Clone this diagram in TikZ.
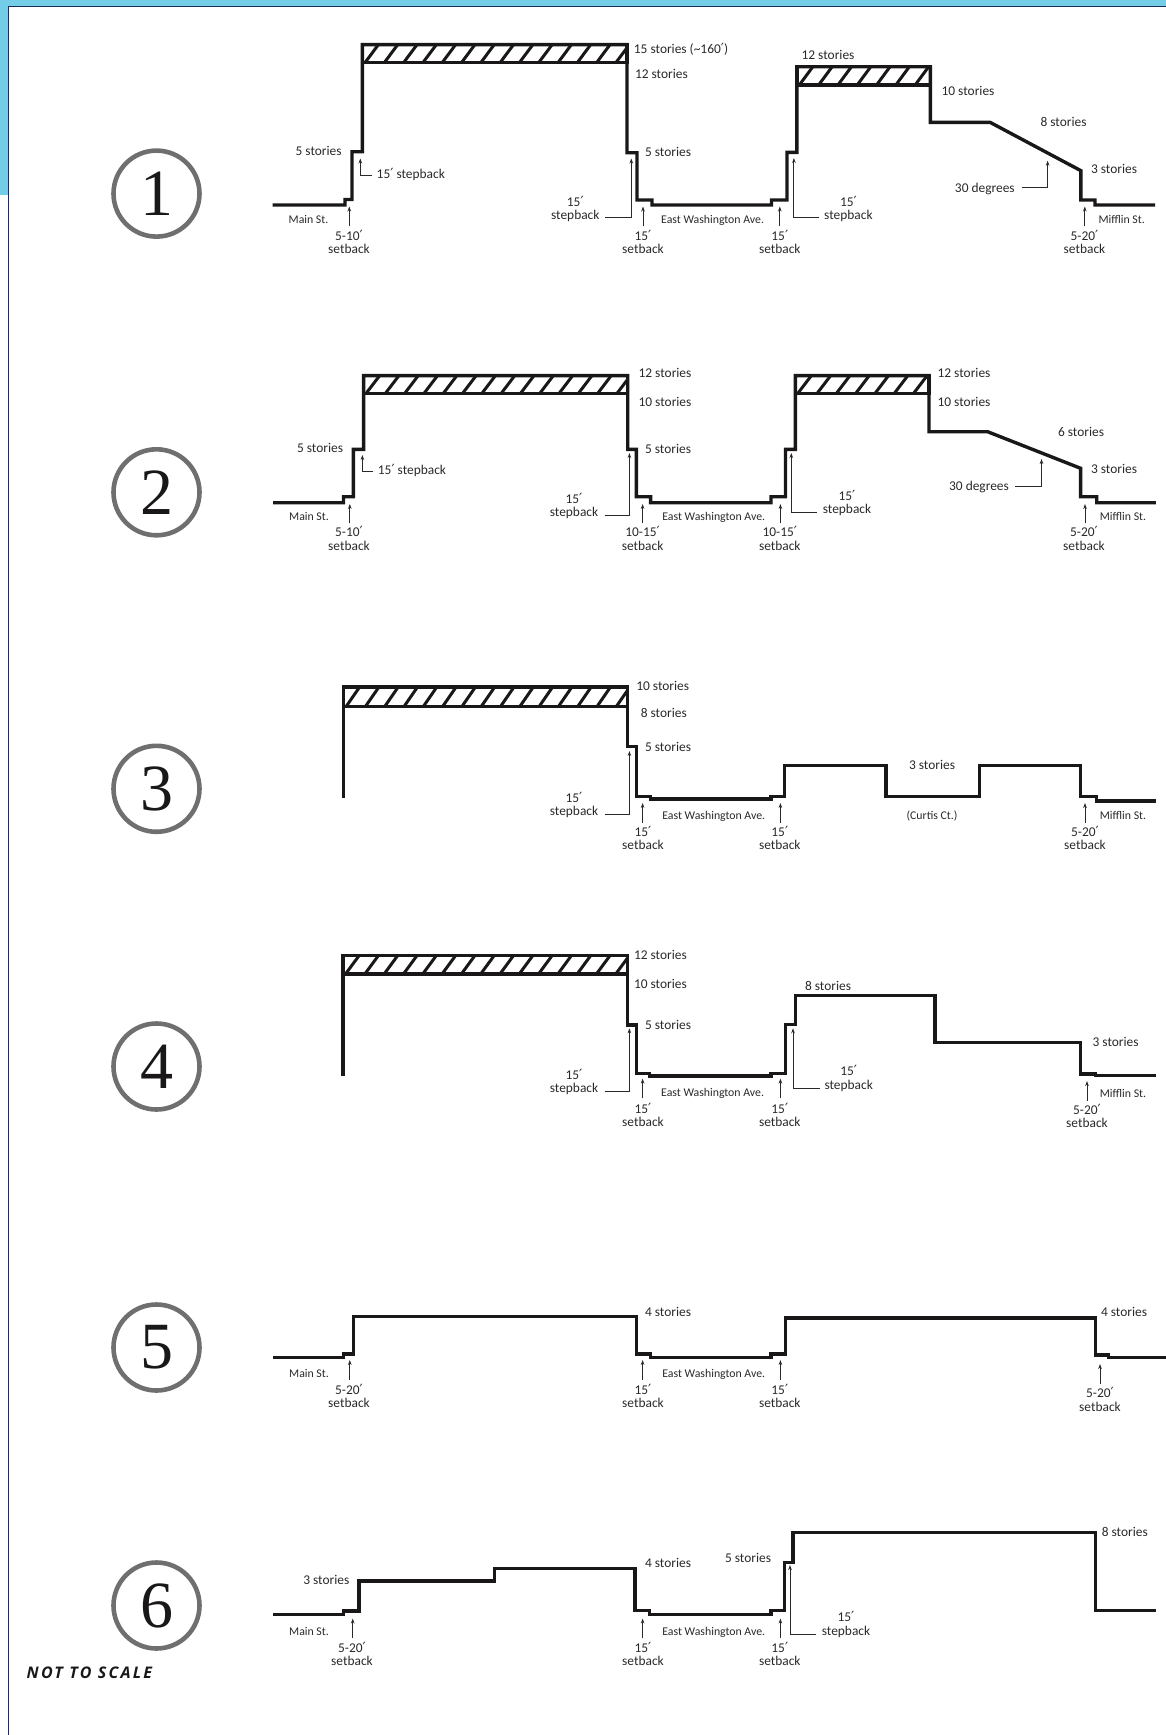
\documentclass[tikz,border=0pt]{standalone}
\usepackage{fontspec}
\setmainfont{Carlito}
\newfontfamily\digitfont{Liberation Serif}
\newfontfamily\primefont{DejaVu Sans}
\newfontfamily\scalefont[LetterSpace=14]{Open Sans}
\newcommand{\pr}{{\primefont\fontsize{14}{14}\selectfont ′}}
\usetikzlibrary{arrows.meta}
\definecolor{inkc}{HTML}{1A1718}
\definecolor{textc}{HTML}{2B2829}
\definecolor{bandblue}{HTML}{74CDE6}
\definecolor{framec}{HTML}{1C2B5A}
\definecolor{ringc}{HTML}{6F6F6F}
\tikzset{
  profile/.style={draw=inkc,line width=3.4pt,line join=miter,line cap=butt},
  hatchline/.style={draw=inkc,line width=3pt},
  thinarrow/.style={draw=textc,line width=0.9pt,-{Stealth[length=5pt,width=3.6pt]}},
  lbl/.style={inner sep=0pt,anchor=base,text=textc,font=\fontsize{13.4}{14}\selectfont},
  street/.style={inner sep=0pt,anchor=base,text=textc,font=\fontsize{11.8}{12}\selectfont},
  ring/.style={circle,draw=ringc,line width=4.6pt,minimum size=86pt,inner sep=0pt,text=inkc,font=\fontsize{66}{66}\selectfont\digitfont}
}
% label: name, x, y(centre), text
\newcommand{\lab}[4]{\node[lbl] (#1) at (#2,{#3+4.4}) {#4};}
% two-line label: name, x, y1, y2, text1, text2
\newcommand{\twolab}[6]{\node[lbl] (#1a) at (#2,{#3+4.4}) {#5};\node[lbl] (#1b) at (#2,{#4+4.4}) {#6};}
\newcommand{\strt}[4]{\node[street] (#1) at (#2,{#3+4}) {#4};}
% plain arrow: name, x, tail y, tip y
\newcommand{\upar}[4]{\coordinate (#1t) at (#2,#3);\coordinate (#1h) at (#2,#4);\draw[thinarrow] (#1t) -- (#1h);}
% elbow arrow: name, free x, elbow y, arrow x, tip y
\newcommand{\elbow}[5]{\coordinate (#1t) at (#2,#3);\coordinate (#1h) at (#4,#5);\draw[thinarrow] (#1t) -| (#1h);}
% hatch band: x1, x2, top, bottom
\newcommand{\hatchband}[4]{%
  \begin{scope}\clip (#1,#3) rectangle (#2,#4);
  \pgfmathsetmacro{\hb}{#1+19.3}\pgfmathsetmacro{\he}{#2+19.3}
  \foreach \h in {#1,\hb,...,\he} {\draw[hatchline] (\h-17.5,#4+1) -- (\h-2.5,#3-1);}
  \end{scope}
  \draw[profile] (#1,#3) rectangle (#2,#4);}
\begin{document}
\begin{tikzpicture}[x=1pt,y=-1pt]
\useasboundingbox (0,0) rectangle (1166,1735);
\fill[bandblue] (0,0) rectangle (1166,6.5);
\fill[bandblue] (0,0) rectangle (8,195);
\draw[framec,line width=1pt] (1166,6.8) -- (8,6.8) -- (8,1735);

% circles
\node[ring] (c1) at (156.5,193.6) {1};
\node[ring] (c2) at (156.5,492.3) {2};
\node[ring] (c3) at (156.5,788.8) {3};
\node[ring] (c4) at (156.5,1066.5) {4};
\node[ring] (c5) at (156.5,1347.5) {5};
\node[ring] (c6) at (156.5,1605.5) {6};
\node[anchor=west,inner sep=0pt,text=inkc,font=\fontsize{16}{16}\selectfont\scalefont\bfseries\itshape] (scale) at (26.5,1672.5) {NOT TO SCALE};

% ---------- Diagram 1
\hatchband{362.4}{627}{44.6}{62.7}
\hatchband{796.8}{930.3}{66.7}{85}
\draw[profile] (272.7,205) -- (345,205) -- (345,199.5) -- (352,199.5) -- (352,151.7) -- (362.4,151.7) -- (362.4,44.6) -- (627,44.6) -- (627,152.7) -- (637,152.7) -- (637,200) -- (652,200) -- (652,205) -- (771.5,205) -- (771.5,200) -- (787,200) -- (787,152.3) -- (796.8,152.3) -- (796.8,66.7) -- (930.3,66.7) -- (930.3,122.3) -- (990,122.3) -- (1080.9,170.7) -- (1080.9,200) -- (1095,200) -- (1095,205) -- (1155,205);
\lab{a1}{681}{49}{15 stories (\textasciitilde160\pr)}
\lab{a2}{661.4}{74}{12 stories}
\lab{a3}{668}{151.7}{5 stories}
\lab{a4}{318.6}{151}{5 stories}
\lab{a5}{410.8}{173.7}{15\pr\ stepback}
\lab{a6}{828}{55}{12 stories}
\lab{a7}{968}{90.7}{10 stories}
\lab{a8}{1063.5}{121.7}{8 stories}
\lab{a9}{1114}{168.7}{3 stories}
\lab{a10}{984.8}{187.7}{30 degrees}
\twolab{a11}{349}{235.7}{248.7}{5-10\pr}{setback}
\twolab{a12}{575.3}{201.7}{215}{15\pr}{stepback}
\twolab{a13}{643}{236}{248.7}{15\pr}{setback}
\twolab{a14}{779.8}{236}{248.7}{15\pr}{setback}
\twolab{a15}{848.4}{202}{215}{15\pr}{stepback}
\twolab{a16}{1084.5}{236}{248.7}{5-20\pr}{setback}
\strt{a17}{308.5}{219}{Main St.}
\strt{a18}{712.6}{219.3}{East Washington Ave.}
\strt{a19}{1121.7}{219.3}{Mifflin St.}
\upar{a20}{349.3}{226}{206.5}
\upar{a21}{643}{226}{206.5}
\upar{a22}{779.8}{226}{206.5}
\upar{a23}{1084.8}{226}{206.5}
\elbow{a24}{371.6}{175}{360.3}{158.5}
\elbow{a25}{605}{217.7}{631.3}{158.5}
\elbow{a26}{819}{217.7}{793.9}{158}
\elbow{a27}{1021.6}{187.7}{1047.6}{160.7}

% ---------- Diagram 2
\hatchband{363.6}{627.7}{375.6}{393.3}
\hatchband{795.3}{929}{375.6}{393.3}
\draw[profile] (273,502.7) -- (343.5,502.7) -- (343.5,496.7) -- (353.3,496.7) -- (353.3,449.3) -- (363.6,449.3) -- (363.6,375.6) -- (627.7,375.6) -- (627.7,449.3) -- (636.3,449.3) -- (636.3,496.7) -- (650.6,496.7) -- (650.6,502.7) -- (771,502.7) -- (771,496.7) -- (785.5,496.7) -- (785.5,449.3) -- (795.3,449.3) -- (795.3,375.6) -- (929,375.6) -- (929,431.7) -- (987.6,431.7) -- (1080.6,468.3) -- (1080.6,496.7) -- (1096.7,496.7) -- (1096.7,502.7) -- (1155.8,502.7);
\lab{b1}{665}{373}{12 stories}
\lab{b2}{665}{402}{10 stories}
\lab{b3}{320}{448.3}{5 stories}
\lab{b4}{668}{449}{5 stories}
\lab{b5}{964}{373}{12 stories}
\lab{b6}{964}{402}{10 stories}
\lab{b7}{1081}{432}{6 stories}
\lab{b8}{1114}{468.7}{3 stories}
\lab{b9}{979}{486}{30 degrees}
\lab{b10}{412}{470}{15\pr\ stepback}
\twolab{b11}{574}{499}{512}{15\pr}{stepback}
\twolab{b12}{349}{531.7}{545.7}{5-10\pr}{setback}
\twolab{b13}{642.6}{531.7}{545.7}{10-15\pr}{setback}
\twolab{b14}{779.8}{531.7}{545.7}{10-15\pr}{setback}
\twolab{b15}{847}{495.7}{509}{15\pr}{stepback}
\twolab{b16}{1084}{531.7}{545.7}{5-20\pr}{setback}
\strt{b17}{309}{516.7}{Main St.}
\strt{b18}{713.8}{516.7}{East Washington Ave.}
\strt{b19}{1123}{516.7}{Mifflin St.}
\upar{b20}{349.8}{523.3}{504}
\upar{b21}{642.6}{523.3}{504}
\upar{b22}{780.4}{523.3}{504}
\upar{b23}{1085}{523.3}{504}
\elbow{b24}{373}{471}{362.4}{455}
\elbow{b25}{604.7}{515}{629.4}{453}
\elbow{b26}{817}{512}{791.3}{453}
\elbow{b27}{1015}{486}{1041.5}{459}

% ---------- Diagram 3
\hatchband{343.5}{627.7}{687}{706.7}
\draw[profile] (343.5,797.7) -- (343.5,687) -- (627.7,687) -- (627.7,746.7) -- (636.3,746.7) -- (636.3,796.7) -- (650.6,796.7) -- (650.6,799) -- (771,799) -- (771,796.7) -- (784.4,796.7) -- (784.4,765.7) -- (886,765.7) -- (886,796.7) -- (979.6,796.7) -- (979.6,765.7) -- (1080.6,765.7) -- (1080.6,796.7) -- (1096.7,796.7) -- (1096.7,801) -- (1155.8,801);
\lab{d1}{662.7}{686}{10 stories}
\lab{d2}{663.8}{713.3}{8 stories}
\lab{d3}{668}{747.3}{5 stories}
\lab{d4}{932}{765}{3 stories}
\twolab{d5}{574}{798.3}{811}{15\pr}{stepback}
\twolab{d6}{643}{831.7}{845}{15\pr}{setback}
\twolab{d7}{779.8}{831.7}{845}{15\pr}{setback}
\twolab{d8}{1085}{831.7}{845}{5-20\pr}{setback}
\strt{d9}{713.8}{815.3}{East Washington Ave.}
\strt{d10}{932}{815.7}{(Curtis Ct.)}
\strt{d11}{1123}{815.3}{Mifflin St.}
\upar{d12}{642.6}{822.7}{803}
\upar{d13}{780.4}{822.7}{803}
\upar{d14}{1085}{822.7}{803}
\elbow{d15}{604.7}{814.3}{629.4}{751}

% ---------- Diagram 4
\hatchband{343}{627.7}{955.6}{974}
\draw[profile] (343,1075.7) -- (343,955.6) -- (627.7,955.6) -- (627.7,1025) -- (636.3,1025) -- (636.3,1073.3) -- (649.5,1073.3) -- (649.5,1076) -- (771,1076) -- (771,1073.3) -- (785.5,1073.3) -- (785.5,1024.5) -- (795.3,1024.5) -- (795.3,995.7) -- (934.8,995.7) -- (934.8,1042.7) -- (1080.6,1042.7) -- (1080.6,1074) -- (1095.5,1074) -- (1095.5,1075.5) -- (1155.8,1075.5);
\lab{e1}{660.4}{955}{12 stories}
\lab{e2}{660.4}{984}{10 stories}
\lab{e3}{668}{1025}{5 stories}
\lab{e4}{828}{986}{8 stories}
\lab{e5}{1115.6}{1042}{3 stories}
\twolab{e6}{574}{1075}{1088.3}{15\pr}{stepback}
\twolab{e7}{643}{1109}{1122.3}{15\pr}{setback}
\twolab{e8}{779.8}{1109}{1122.3}{15\pr}{setback}
\twolab{e9}{848.7}{1070.7}{1085}{15\pr}{stepback}
\twolab{e10}{1087}{1110}{1123}{5-20\pr}{setback}
\strt{e11}{712.6}{1092.3}{East Washington Ave.}
\strt{e12}{1123}{1093.7}{Mifflin St.}
\upar{e13}{642.6}{1098.3}{1078.6}
\upar{e14}{780.4}{1098.3}{1078.6}
\upar{e15}{1087}{1100.7}{1081}
\elbow{e16}{604.7}{1091.7}{629.4}{1028.3}
\elbow{e17}{820}{1088.3}{793}{1028.3}

% ---------- Diagram 5
\draw[profile] (273,1357.3) -- (343.5,1357.3) -- (343.5,1354) -- (353.3,1354) -- (353.3,1316.7) -- (636.3,1316.7) -- (636.3,1354) -- (650.6,1354) -- (650.6,1357.3) -- (771,1357.3) -- (771,1354) -- (785.5,1354) -- (785.5,1318) -- (1095.5,1318) -- (1095.5,1355) -- (1108.7,1355) -- (1108.7,1357.3) -- (1166,1357.3);
\lab{f1}{668}{1312}{4 stories}
\lab{f2}{1124}{1312}{4 stories}
\twolab{f3}{349}{1389.7}{1402.7}{5-20\pr}{setback}
\twolab{f4}{643}{1389.7}{1402.7}{15\pr}{setback}
\twolab{f5}{779.8}{1389.7}{1402.7}{15\pr}{setback}
\twolab{f6}{1100}{1393.3}{1406.7}{5-20\pr}{setback}
\strt{f7}{309}{1373.3}{Main St.}
\strt{f8}{713.8}{1373.3}{East Washington Ave.}
\upar{f9}{349.8}{1380}{1360}
\upar{f10}{642.6}{1380}{1360}
\upar{f11}{780.4}{1380}{1360}
\upar{f12}{1100}{1384}{1364}

% ---------- Diagram 6
\draw[profile] (273,1614.3) -- (343.5,1614.3) -- (343.5,1611) -- (359,1611) -- (359,1581) -- (494.5,1581) -- (494.5,1568.7) -- (635,1568.7) -- (635,1610.7) -- (649.5,1610.7) -- (649.5,1614.3) -- (771,1614.3) -- (771,1610.7) -- (784.4,1610.7) -- (784.4,1562.3) -- (793,1562.3) -- (793,1532.7) -- (1095.5,1532.7) -- (1095.5,1610.7) -- (1155.8,1610.7);
\lab{g1}{326.3}{1580}{3 stories}
\lab{g2}{668}{1563.3}{4 stories}
\lab{g3}{748}{1558.3}{5 stories}
\lab{g4}{1124.8}{1532}{8 stories}
\twolab{g5}{352}{1647.7}{1661}{5-20\pr}{setback}
\twolab{g6}{643}{1647.7}{1661}{15\pr}{setback}
\twolab{g7}{779.8}{1647.7}{1661}{15\pr}{setback}
\twolab{g8}{846}{1616.7}{1631}{15\pr}{stepback}
\strt{g9}{309}{1631}{Main St.}
\strt{g10}{713.8}{1631}{East Washington Ave.}
\upar{g11}{352.7}{1638.3}{1618.5}
\upar{g12}{642.6}{1638.3}{1618.5}
\upar{g13}{780.4}{1638.3}{1618.5}
\elbow{g14}{816}{1634}{790}{1565}
\end{tikzpicture}
\end{document}
